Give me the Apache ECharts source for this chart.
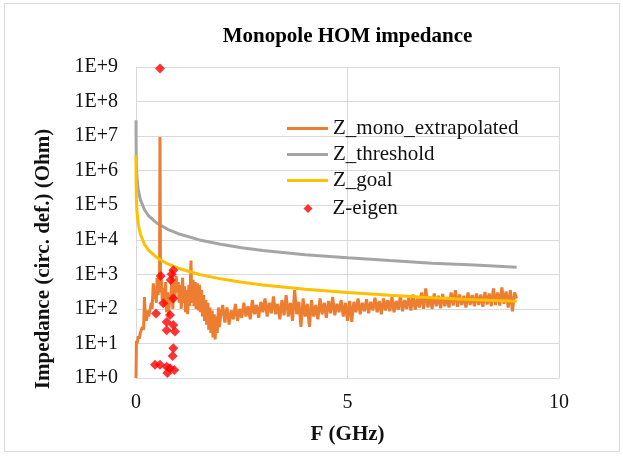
<!DOCTYPE html>
<html>
<head>
<meta charset="utf-8">
<script src="https://cdn.jsdelivr.net/npm/echarts@6/dist/echarts.min.js"></script>
<style>
html,body{margin:0;padding:0;background:#fff;}
#c{width:623px;height:456px;}
</style>
</head>
<body>
<div id="c"></div>
<script>
// ---- data ----
const xTicks = [0, 5, 10];

const monoFreq = [
  0, 0.01, 0.03, 0.05, 0.08, 0.10, 0.13, 0.15, 0.18, 0.20, 0.22, 0.25, 0.28, 0.30, 0.33, 0.36, 0.38, 0.41, 0.43, 0.46,
  0.48, 0.50, 0.52, 0.54, 0.555, 0.567, 0.58, 0.60, 0.62, 0.65, 0.67, 0.70, 0.72, 0.75, 0.77, 0.80, 0.82, 0.85, 0.87, 0.90,
  0.92, 0.95, 0.97,
  1.00, 1.02, 1.05, 1.07, 1.10, 1.12, 1.15, 1.17, 1.20, 1.22, 1.25, 1.27, 1.30, 1.32, 1.35, 1.37, 1.40, 1.42, 1.45, 1.47,
  1.50, 1.52, 1.55, 1.57, 1.60, 1.62, 1.65, 1.67, 1.70, 1.72, 1.75, 1.77, 1.80, 1.82, 1.85, 1.87, 1.90, 1.92, 1.95, 1.97,
  2.00, 2.05, 2.10, 2.15, 2.20, 2.25, 2.30, 2.35, 2.40, 2.45, 2.50, 2.55, 2.60, 2.65, 2.70, 2.75, 2.80, 2.85, 2.90, 2.95,
  3.00, 3.05, 3.10, 3.15, 3.20, 3.25, 3.30, 3.35, 3.40, 3.45, 3.50, 3.55, 3.60, 3.65, 3.70, 3.75, 3.80, 3.85, 3.90, 3.95,
  4.00, 4.05, 4.10, 4.15, 4.20, 4.25, 4.30, 4.35, 4.40, 4.45, 4.50, 4.55, 4.60, 4.65, 4.70, 4.75, 4.80, 4.85, 4.90, 4.95,
  5.00, 5.05, 5.10, 5.15, 5.20, 5.25, 5.30, 5.35, 5.40, 5.45, 5.50, 5.55, 5.60, 5.65, 5.70, 5.75, 5.80, 5.85, 5.90, 5.95,
  6.00, 6.05, 6.10, 6.15, 6.20, 6.25, 6.30, 6.35, 6.40, 6.45, 6.50, 6.55, 6.60, 6.65, 6.70, 6.75, 6.80, 6.85, 6.90, 6.95,
  7.00, 7.05, 7.10, 7.15, 7.20, 7.25, 7.30, 7.35, 7.40, 7.45, 7.50, 7.55, 7.60, 7.65, 7.70, 7.75, 7.80, 7.85, 7.90, 7.95,
  8.00, 8.05, 8.10, 8.15, 8.20, 8.25, 8.30, 8.35, 8.40, 8.45, 8.50, 8.55, 8.60, 8.65, 8.70, 8.75, 8.80, 8.85, 8.90, 8.95,
  9.00
];
const monoZ = [
  1, 12, 10, 16, 14, 20, 18, 30, 25, 220, 60, 45, 90, 60, 93, 150, 100, 550, 200, 300,
  150, 800, 250, 400, 300, 9400000, 300, 700, 180, 400, 120, 600, 80, 300, 60, 250, 150, 1000, 100, 700,
  200, 900, 300,
  600, 150, 500, 100, 800, 150, 450, 80, 350, 70, 500, 120, 2500, 150, 700, 120, 600, 100, 550, 90,
  500, 80, 350, 60, 250, 45, 180, 35, 150, 25, 110, 20, 90, 15, 70, 13, 60, 20, 110, 30,
  60, 130, 40, 110, 35, 90, 50, 140, 45, 100, 55, 150, 60, 120, 50, 180, 70, 130, 55, 160,
  80, 200, 60, 150, 75, 230, 70, 140, 50, 180, 65, 250, 60, 150, 45, 350, 70, 160, 30, 200,
  60, 140, 30, 180, 60, 130, 50, 200, 70, 150, 55, 170, 75, 220, 65, 140, 80, 180, 60, 150,
  45, 170, 42, 160, 80, 200, 70, 150, 85, 190, 75, 160, 90, 210, 80, 170, 70, 200, 90, 180,
  85, 220, 80, 170, 95, 240, 85, 180, 100, 220, 90, 260, 95, 200, 110, 300, 100, 390, 110, 230,
  100, 280, 120, 240, 105, 270, 120, 220, 110, 300, 125, 350, 115, 260, 130, 240, 110, 300, 130, 250,
  120, 280, 130, 260, 115, 310, 135, 280, 120, 390, 130, 300, 125, 420, 140, 320, 110, 350, 85, 300,
  200
];

const curveFreq = [0.0005, 0.002, 0.005, 0.01, 0.02, 0.05, 0.1, 0.2, 0.3, 0.5, 0.75, 1, 1.5, 2, 2.5, 3, 4, 5, 6, 7, 8, 9];
const thresholdZ = [29000000, 7400000, 3000000, 1500000, 740000, 300000, 150000, 74000, 49000, 30000, 20000, 15000, 9900, 7400, 5900, 4900, 3700, 3000, 2500, 2100, 1850, 1600];
const goalZ = [2800000, 740000, 300000, 150000, 74000, 30000, 15000, 7400, 4900, 3000, 2000, 1500, 990, 740, 590, 490, 370, 300, 250, 210, 185, 165];

const eigenFreq = [0.567, 0.584, 0.882, 0.820, 0.845, 0.645, 0.882, 0.473, 0.804, 0.726, 0.882, 0.726, 0.922, 0.882, 0.868, 0.449, 0.567, 0.726, 0.804, 0.740, 0.905];
const eigenZ = [900000000, 890, 1320, 680, 1000, 145, 200, 74, 66, 42, 34, 24, 22, 7.2, 4.3, 2.4, 2.4, 2.1, 1.9, 1.4, 1.7];

const seriesNames = ['Z_mono_extrapolated', 'Z_threshold', 'Z_goal', 'Z-eigen'];
const seriesColors = ['#ED7D31', '#A5A5A5', '#FFC000', '#FF0000'];

// ---- chart ----
const pair = (xs, ys) => xs.map((x, i) => [x, ys[i]]);
const serif = '"Liberation Serif", "DejaVu Serif", serif';
const txt = '#111';
const legendText = {fontFamily: serif, fontSize: 21, color: txt};

const chart = echarts.init(document.getElementById('c'), null, {renderer: 'canvas'});
chart.setOption({
  animation: false,
  backgroundColor: '#fff',
  title: {
    text: 'Monopole HOM impedance',
    left: 347.5, top: 26, textAlign: 'center', padding: 0,
    textStyle: {fontFamily: serif, fontSize: 21, fontWeight: 'bold', color: '#000'}
  },
  grid: {left: 136, right: 64, top: 67, bottom: 78, containLabel: false},
  legend: [
    {
      orient: 'vertical', left: 287, top: 118, padding: 0,
      itemWidth: 41, itemHeight: 3, itemGap: 5, icon: 'rect',
      textStyle: legendText,
      data: seriesNames.slice(0, 3)
    },
    {
      orient: 'vertical', left: 303.5, top: 198, padding: 0,
      itemWidth: 9, itemHeight: 9, icon: 'diamond',
      textStyle: Object.assign({}, legendText, {padding: [0, 0, 0, 15]}),
      data: seriesNames.slice(3)
    }
  ],
  xAxis: {
    type: 'value', min: xTicks[0], max: xTicks[xTicks.length - 1], interval: 5,
    name: 'F (GHz)', nameLocation: 'middle', nameGap: 46,
    nameTextStyle: {fontFamily: serif, fontSize: 21, fontWeight: 'bold', color: txt},
    axisLine: {show: true, lineStyle: {color: '#d9d9d9', width: 1}},
    axisTick: {show: false},
    axisLabel: {fontFamily: serif, fontSize: 20, color: txt, margin: 15},
    splitLine: {show: true, lineStyle: {color: '#d9d9d9', width: 1}}
  },
  yAxis: {
    type: 'log', logBase: 10, min: 1, max: 1e9, splitNumber: 9,
    axisLine: {show: true, lineStyle: {color: '#d9d9d9', width: 1}},
    axisTick: {show: false},
    axisLabel: {
      fontFamily: serif, fontSize: 20, color: txt, margin: 18,
      formatter: v => '1E+' + Math.round(Math.log10(v))
    },
    splitLine: {show: true, lineStyle: {color: '#d9d9d9', width: 1}}
  },
  graphic: [
    {type: 'rect', shape: {x: 4.5, y: 3.5, width: 615, height: 448}, style: {fill: 'none', stroke: '#d9d9d9', lineWidth: 1}, z: -1},
    {type: 'text', x: 44, y: 259, rotation: Math.PI / 2,
     style: {text: 'Impedance (circ. def.) (Ohm)', fontFamily: serif, fontSize: 21, fontWeight: 'bold', fill: txt, align: 'center', verticalAlign: 'middle'}}
  ],
  series: [
    {name: seriesNames[0], type: 'line', data: pair(monoFreq, monoZ), symbol: 'none',
     lineStyle: {color: seriesColors[0], width: 3}, itemStyle: {color: seriesColors[0]}, z: 3},
    {name: seriesNames[1], type: 'line', data: pair(curveFreq, thresholdZ), symbol: 'none',
     lineStyle: {color: seriesColors[1], width: 3}, itemStyle: {color: seriesColors[1]}, z: 2},
    {name: seriesNames[2], type: 'line', data: pair(curveFreq, goalZ), symbol: 'none',
     lineStyle: {color: seriesColors[2], width: 3}, itemStyle: {color: seriesColors[2]}, z: 4},
    {name: seriesNames[3], type: 'scatter', data: pair(eigenFreq, eigenZ), symbol: 'diamond', symbolSize: 10,
     itemStyle: {color: seriesColors[3]}, z: 5}
  ]
});
</script>
</body>
</html>
